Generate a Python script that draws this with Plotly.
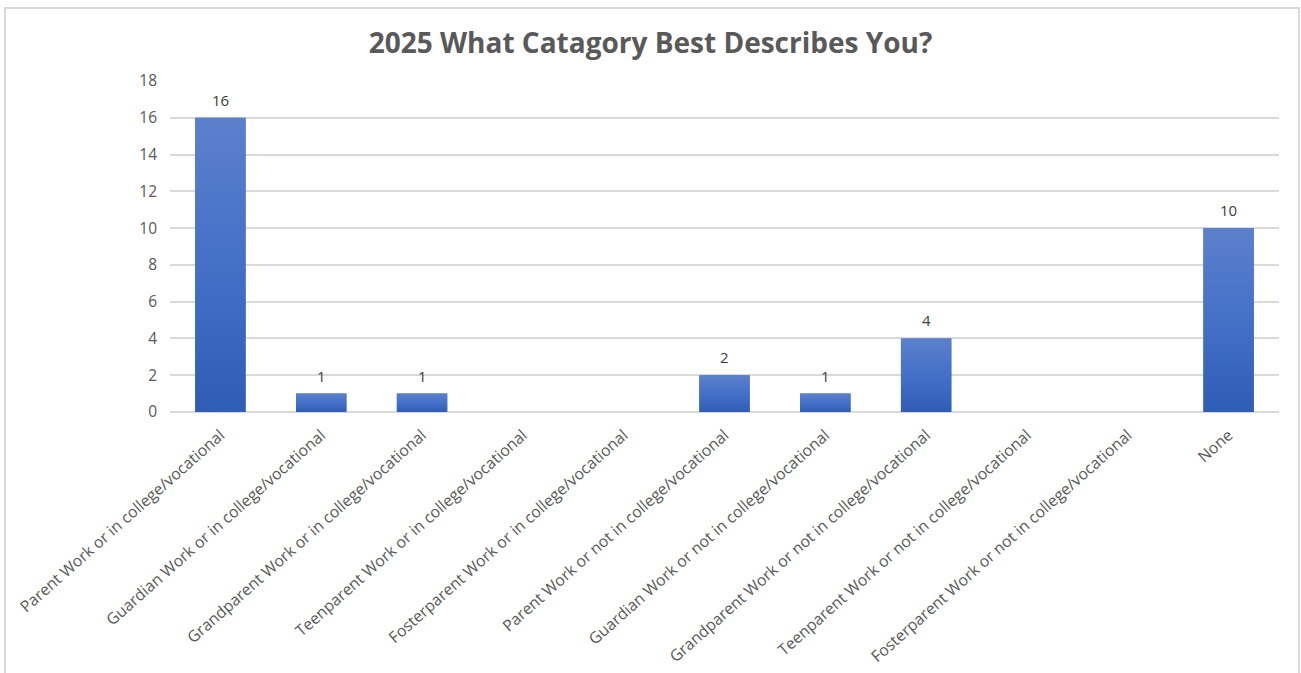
import plotly.graph_objects as go

# Survey responses per category
categories = [
    "Parent Work or in college/vocational",
    "Guardian Work or in college/vocational",
    "Grandparent Work or in college/vocational",
    "Teenparent Work or in college/vocational",
    "Fosterparent Work or in college/vocational",
    "Parent Work or not in college/vocational",
    "Guardian Work or not in college/vocational",
    "Grandparent Work or not in college/vocational",
    "Teenparent Work or not in college/vocational",
    "Fosterparent Work or not in college/vocational",
    "None",
]
counts = [16, 1, 1, 0, 0, 2, 1, 4, 0, 0, 10]
y_ticks = [0, 2, 4, 6, 8, 10, 12, 14, 16, 18]

TITLE = "2025 What Catagory Best Describes You?"
FONT = "Open Sans"
TEXT_GREY = "#595959"
GRID = "#d9d9d9"
BAR_W = 0.5
GRADIENT = [[0.0, "#2e5db5"], [0.5, "#4470c8"], [1.0, "#5c80cb"]]

positions = list(range(len(categories)))

fig = go.Figure()

# base bars
fig.add_trace(go.Bar(
    x=positions,
    y=counts,
    width=BAR_W,
    marker=dict(color="#4470c8", line=dict(width=0)),
    hoverinfo="skip",
    showlegend=False,
))

# vertical gradient overlay for each non-empty bar
for pos, val in zip(positions, counts):
    if val <= 0:
        continue
    left, right = pos - BAR_W / 2, pos + BAR_W / 2
    fig.add_trace(go.Scatter(
        x=[left, right, right, left, left],
        y=[0, 0, val, val, 0],
        mode="lines",
        line=dict(width=0),
        fill="toself",
        fillgradient=dict(type="vertical", colorscale=GRADIENT),
        hoverinfo="skip",
        showlegend=False,
    ))
    # value label above the bar
    fig.add_annotation(
        x=pos, y=val, text=str(val),
        showarrow=False, yanchor="bottom", yshift=6,
        font=dict(family=FONT, size=15, color="#404040"),
    )

# light frame around the whole chart
fig.add_shape(
    type="rect", xref="paper", yref="paper",
    x0=-0.1488, x1=1.018, y0=-0.9, y1=1.2205,
    line=dict(color=GRID, width=2), fillcolor="rgba(0,0,0,0)", layer="below",
)

fig.update_layout(
    width=1301, height=673,
    margin=dict(l=170, r=22, t=81, b=261, autoexpand=False),
    paper_bgcolor="white",
    plot_bgcolor="white",
    title=dict(
        text=TITLE,
        x=0.5, xref="container", xanchor="center",
        y=1 - 43 / 673, yref="container", yanchor="middle",
        font=dict(family=FONT, size=28, color=TEXT_GREY, weight="bold"),
    ),
    font=dict(family=FONT, color=TEXT_GREY),
    xaxis=dict(
        range=[-0.5, len(categories) - 0.5],
        tickmode="array",
        tickvals=positions,
        ticktext=categories,
        tickangle=-41.5,
        tickfont=dict(family=FONT, size=15.8, color=TEXT_GREY),
        showgrid=False,
        zeroline=False,
        showline=False,
        ticks="",
        ticklabelstandoff=10,
        automargin=False,
        fixedrange=True,
    ),
    yaxis=dict(
        range=[0, 18],
        tickmode="array",
        tickvals=y_ticks,
        tickfont=dict(family=FONT, size=15.5, color=TEXT_GREY),
        showgrid=True,
        gridcolor=GRID,
        gridwidth=1.5,
        zeroline=True,
        zerolinecolor=GRID,
        zerolinewidth=1.5,
        showline=False,
        ticks="",
        ticklabelstandoff=12,
        automargin=False,
        fixedrange=True,
    ),
    bargap=0.5,
)

fig.write_html("out.html")
